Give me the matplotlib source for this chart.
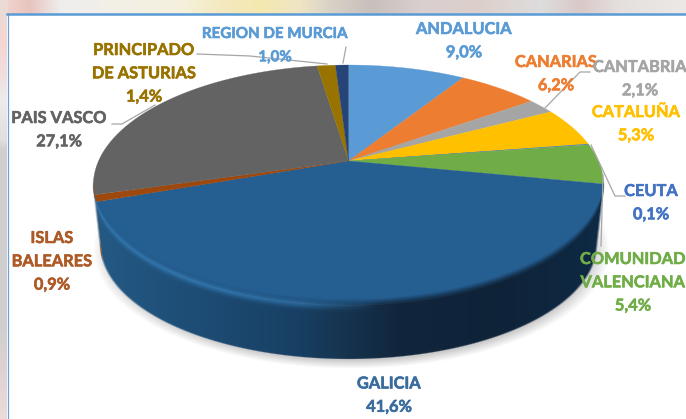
"""Reparto por comunidad autonoma: pie in fake 3D, the way Excel draws it."""
import matplotlib
matplotlib.use("Agg")
import matplotlib.pyplot as plt
import matplotlib.patheffects as pe
import numpy as np
from matplotlib.colors import to_rgb
from matplotlib.patches import Polygon, Rectangle

plt.rcParams["font.family"] = ["Lato", "DejaVu Sans"]

names = ["ANDALUCIA", "CANARIAS", "CANTABRIA", "CATALUÑA", "CEUTA",
         "COMUNIDAD\nVALENCIANA", "GALICIA", "ISLAS\nBALEARES", "PAIS VASCO",
         "PRINCIPADO\nDE ASTURIAS", "REGION DE MURCIA"]
values = [9.0, 6.2, 2.1, 5.3, 0.1, 5.4, 41.6, 0.9, 27.1, 1.4, 1.0]
colors = ["#5b9bd5", "#ed7d31", "#a5a5a5", "#ffc000", "#4472c4", "#70ad47",
          "#255e91", "#9e480e", "#636363", "#997300", "#264478"]
text_colors = ["#5b9bd5", "#ed7d31", "#a5a5a5", "#ffc000", "#4472c4", "#70ad47",
               "#3a6d9e", "#ad5a26", "#636363", "#997300", "#5b9bd5"]

# centre x and y of the first text line, in pixels of the 686x419 picture
label_x = [464, 556, 640, 636, 651, 633, 389, 52, 59, 144, 275]
label_y = [30, 63, 68, 113, 192, 260, 384.5, 239, 119, 51, 34]
label_size = [11.8, 11.8, 11.8, 11.8, 11.8, 11.8, 11.8, 11.8, 11.8, 11.8, 10.9]

# leader lines, pixel polylines
leaders = [
    [(343, 63), (346, 47)],
    [(197, 54), (250, 56), (327, 64)],
    [(112, 124), (122, 124), (155, 105)],
    [(590, 72), (580, 72), (545, 108)],
    [(625, 196), (615, 196), (591, 145)],
    [(601, 246), (603, 175)],
]

bg_top_x = [0, 30, 60, 100, 180, 220, 260, 300, 330, 370, 420, 480, 540, 580, 620, 686]
bg_top = ["#f3d6d0", "#e8c4be", "#eeeeee", "#f2efe9", "#f5f1dd", "#f4e9c0", "#f5e8b0", "#efe5c4",
          "#d8d2c6", "#c8c0bc", "#d9cfcf", "#ddd0cb", "#dddddd", "#d9c9c8", "#e5e0de", "#ece9e6"]
bg_left_y = [15, 40, 75, 100, 140, 150, 330, 360, 419]
bg_left = ["#eadbd6", "#f5d5d3", "#f0dede", "#ececec", "#dfdfdf", "#cfcfcf", "#d0d0d0", "#dcd0d0", "#ecdcdc"]

# wall colour along x
wall_x = [95, 200, 300, 343, 400, 500, 604]
wall_c = ["#245a85", "#1d4c74", "#183f63", "#16344f", "#11263d", "#0e2338", "#0f2a45"]
glow_x = [95, 200, 300, 380, 604]
glow_a = [0.9, 0.9, 0.7, 0.0, 0.0]

W, H = 686, 419
HUB = (348.5, 161.0)
TOP = (348.5, 185.0, 255.0, 120.0)   # top face ellipse: cx, cy, rx, ry
LOW = (348.5, 245.0, 248.0, 114.0)   # bottom edge of the wall


def rim(theta):
    """Circle angle (clockwise from 12 o'clock) to picture pixels, in perspective."""
    k, a, b = 0.2, 250.0, 115.2
    u, v = np.sin(theta), np.cos(theta)
    return HUB[0] + a * u / (1 + k * v), HUB[1] - b * v / (1 + k * v)


def to_low(x, y):
    nx, ny = (x - TOP[0]) / TOP[2], (y - TOP[1]) / TOP[3]
    return LOW[0] + nx * LOW[2], LOW[1] + ny * LOW[3]


def lerp_colors(xs, px, hexes):
    rgb = np.array([to_rgb(c) for c in hexes])
    return np.stack([np.interp(xs, px, rgb[:, i]) for i in range(3)], axis=-1)


fig = plt.figure(figsize=(W / 100, H / 100), dpi=100)
ax = fig.add_axes([0, 0, 1, 1])
ax.set_xlim(0, W)
ax.set_ylim(H, 0)
ax.axis("off")

# blurred photo behind the chart
xx = np.arange(W)
ax.imshow(lerp_colors(xx, bg_top_x, bg_top)[None, :, :], extent=(0, W, 15, 0), aspect="auto", zorder=0)
yy = np.arange(H)
ax.imshow(lerp_colors(yy, bg_left_y, bg_left)[:, None, :], extent=(0, 8, H, 0), aspect="auto", zorder=0)
ax.add_patch(Rectangle((7, 14), W, H, facecolor="white", edgecolor="none", zorder=0.5))
ax.plot([7.5, 7.5], [H, 14], color="#6ba3d8", lw=0.9, zorder=0.6)
ax.plot([7, W], [14.5, 14.5], color="#5b9bd5", lw=1.8, zorder=0.6)
ax.set_xlim(0, W)
ax.set_ylim(H, 0)

X, Y = np.meshgrid(xx + 0.5, yy + 0.5)

# soft shadow below the wall
r = np.hypot((X - LOW[0] - 3) / LOW[2], (Y - LOW[1] - 5) / LOW[3])
shadow = np.zeros((H, W, 4))
shadow[..., :3] = 0.55
shadow[..., 3] = np.clip((1.0 - r) * 12 + 0.5, 0, 1) * 0.5
ax.imshow(shadow, extent=(0, W, H, 0), aspect="auto", zorder=1)

# the wall: top ellipse swept down to the bottom ellipse
cover = np.zeros((H, W))
for t in np.linspace(0, 1, 70):
    cx, cy = TOP[0], TOP[1] + t * (LOW[1] - TOP[1])
    rx, ry = TOP[2] + t * (LOW[2] - TOP[2]), TOP[3] + t * (LOW[3] - TOP[3])
    rr = np.hypot((X - cx) / rx, (Y - cy) / ry)
    cover = np.maximum(cover, np.clip((1.0 - rr) * 100 + 0.5, 0, 1))

nx = np.clip((X - TOP[0]) / TOP[2], -1, 1)
rim_y = TOP[1] + TOP[3] * np.sqrt(1 - nx ** 2)
d = Y - rim_y
wall = lerp_colors(X, wall_x, wall_c)
glow = np.exp(-((d - 0.5) / 4.0) ** 2) * np.interp(X, glow_x, glow_a)
wall = wall + (np.array(to_rgb("#3075ad")) - wall) * glow[..., None]
wall_img = np.dstack([wall, cover * np.clip((d + 6.0) / 7.0, 0, 1)])
ax.imshow(wall_img, extent=(0, W, H, 0), aspect="auto", zorder=3)

# top face
fracs = np.array(values) / sum(values)
edges = np.concatenate([[0], np.cumsum(fracs)]) * 2 * np.pi
for i, col in enumerate(colors):
    th = np.linspace(edges[i], edges[i + 1], 60)
    px, py = rim(th)
    pts = np.column_stack([np.r_[HUB[0], px], np.r_[HUB[1], py]])
    ax.add_patch(Polygon(pts, closed=True, facecolor=col, edgecolor=col, lw=0.2, zorder=2))

# the sliver of wall that belongs to Islas Baleares
th = np.linspace(edges[7], edges[7] + 0.16, 12)
px, py = rim(th)
lx, ly = to_low(px, py)
ax.add_patch(Polygon(np.column_stack([np.r_[px, lx[::-1]], np.r_[py, ly[::-1]]]),
                     closed=True, facecolor=colors[7], edgecolor="none", zorder=3.2))

for line in leaders:
    pts = np.array(line)
    ax.plot(pts[:, 0], pts[:, 1], color="#a6a6a6", lw=0.9, zorder=4)

# labels, one line at a time so the spacing stays as in the picture
for name, val, tx, ty, size, col in zip(names, values, label_x, label_y, label_size, text_colors):
    lines = name.split("\n") + [f"{val:.1f}%".replace(".", ",")]
    for j, s in enumerate(lines):
        txt = ax.text(tx, ty + j * 23.3, s, color=col, ha="center", va="center",
                      fontsize=size, fontweight="bold", zorder=5)
        # the original text is blurred and reads a little heavier
        txt.set_path_effects([pe.withStroke(linewidth=0.4, foreground=col)])

fig.savefig("out.png", dpi=100)
